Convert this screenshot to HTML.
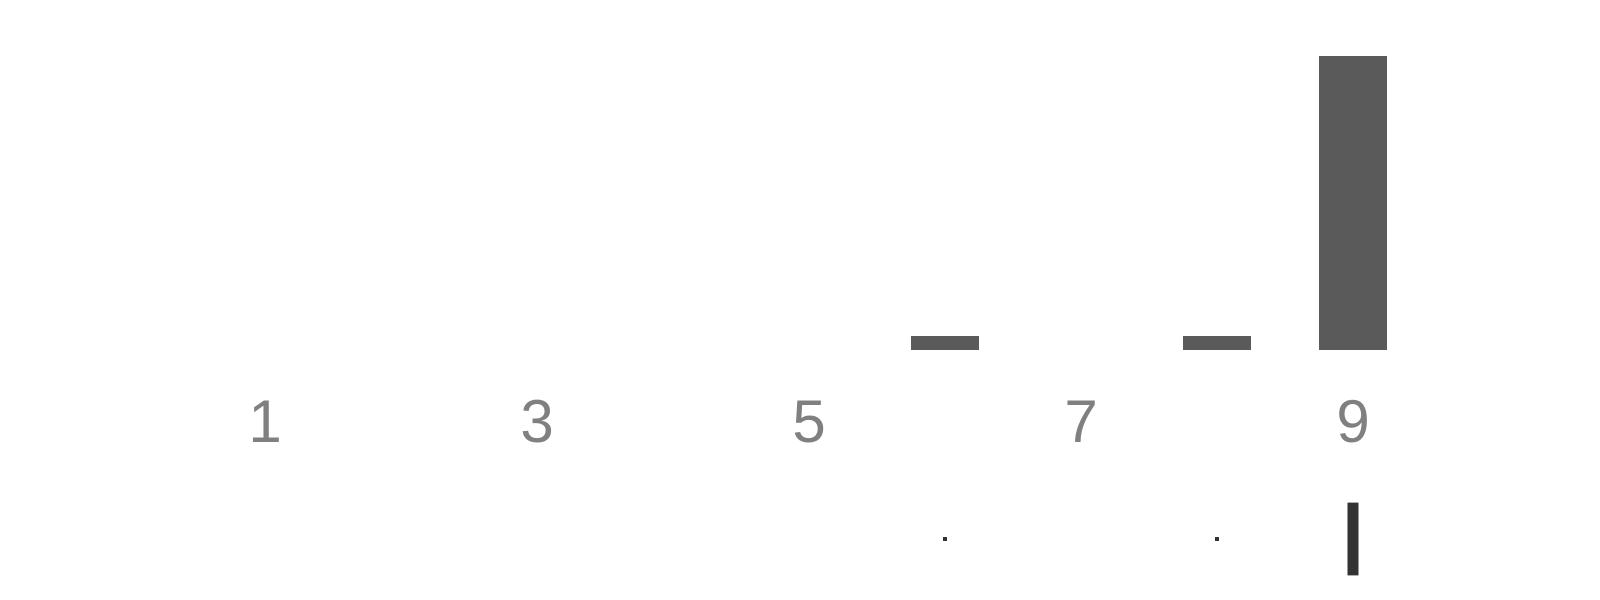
<!DOCTYPE html>
<html><head><meta charset="utf-8"><style>
html,body{margin:0;padding:0;background:#fff;width:1600px;height:600px;overflow:hidden}
svg{display:block}
</style></head><body>
<svg id="chart" width="1600" height="600" xmlns="http://www.w3.org/2000/svg"></svg>
<script>
const categories = [1,2,3,4,5,6,7,8,9];
const tickLabels = ["1","3","5","7","9"];
const barValues = [0,0,0,0,0,1,0,1,21];
const rangeLow = [0,0,0,0,0,0,0,0,-2.6];
const rangeHigh = [0,0,0,0,0,0,0,0,2.6];

const NS = "http://www.w3.org/2000/svg";
const svg = document.getElementById('chart');
const step = 136, x0 = 265;
function xScale(c){ return x0 + (c - 1) * step; }
const baseY = 350, unit = 14;
function yScale(v){ return baseY - v * unit; }
const rangeMid = 539;
function rScale(v){ return rangeMid - v * 14; }
const barW = 68;

barValues.forEach((v,i)=>{
  if (v <= 0) return;
  const r = document.createElementNS(NS,'rect');
  const cx = xScale(categories[i]);
  r.setAttribute('x', cx - barW/2);
  r.setAttribute('y', yScale(v));
  r.setAttribute('width', barW);
  r.setAttribute('height', baseY - yScale(v));
  r.setAttribute('fill', '#5a5a5a');
  
  
  svg.appendChild(r);
});

tickLabels.forEach(t=>{
  const tx = document.createElementNS(NS,'text');
  tx.setAttribute('x', xScale(Number(t)));
  tx.setAttribute('y', 442);
  tx.setAttribute('text-anchor', 'middle');
  tx.setAttribute('font-family', 'Liberation Sans, sans-serif');
  tx.setAttribute('font-size', '60');
  tx.setAttribute('fill', '#808080');
  tx.textContent = t;
  
  
  svg.appendChild(tx);
});

barValues.forEach((v,i)=>{
  if (v <= 0) return;
  const cx = xScale(categories[i]);
  const lo = rScale(rangeLow[i]), hi = rScale(rangeHigh[i]);
  const h = Math.abs(lo - hi);
  const r = document.createElementNS(NS,'rect');
  if (h < 1) {
    r.setAttribute('x', cx - 2);
    r.setAttribute('y', rangeMid - 2);
    r.setAttribute('width', 4);
    r.setAttribute('height', 4);
  } else {
    r.setAttribute('x', cx - 5.5);
    r.setAttribute('y', Math.min(lo,hi));
    r.setAttribute('width', 11);
    r.setAttribute('height', h);
  }
  r.setAttribute('fill', '#333333');
  
  
  svg.appendChild(r);
});
</script>
</body></html>
